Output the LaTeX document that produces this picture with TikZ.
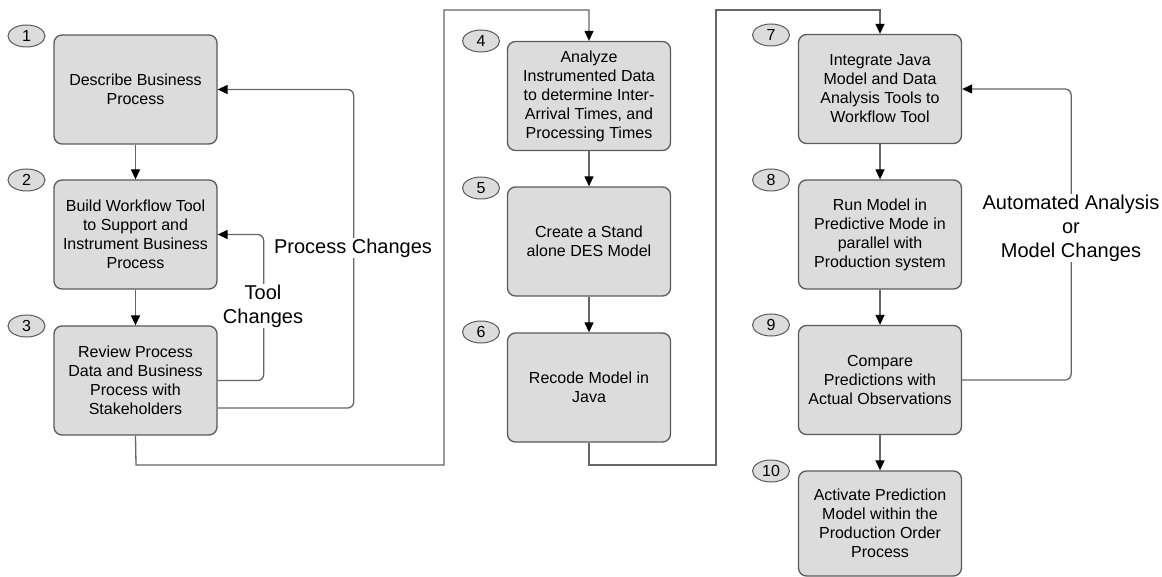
\documentclass[tikz,border=0pt]{standalone}
\usepackage{fontspec}
\setmainfont{Liberation Sans}
\usetikzlibrary{arrows.meta,shapes.geometric}
\definecolor{boxfill}{HTML}{DCDCDC}
\definecolor{boxline}{HTML}{5A5A5A}
\definecolor{linkline}{HTML}{666666}
\tikzset{
  stepbox/.style={draw=boxline, fill=boxfill, line width=1.3pt, rounded corners=8pt,
    minimum width=163pt, minimum height=109pt, align=center, inner sep=2pt,
    font=\fontsize{16}{19}\selectfont},
  stepnum/.style={ellipse, draw=boxline, fill=boxfill, line width=1pt,
    minimum width=37pt, minimum height=22pt, inner sep=0pt,
    font=\fontsize{16}{18}\selectfont},
  link/.style={draw=linkline, line width=1.3pt,
    -{Triangle[length=10pt,width=9pt,fill=black,color=black]}},
  loop/.style={link, rounded corners=6pt},
  route/.style={draw=linkline, line width=1.3pt},
  looplabel/.style={fill=white, align=center, inner sep=1pt,
    font=\fontsize{20}{24}\selectfont}
}
\begin{document}
\begin{tikzpicture}[x=1pt,y=-1pt]
\useasboundingbox (0,0) rectangle (1162,577);

% process steps
\node[stepbox] (b1) at (135.5,89.5) {Describe Business\\Process};
\node[stepbox] (b2) at (135.5,234.5) {Build Workflow Tool\\to Support and\\Instrument Business\\Process};
\node[stepbox] (b3) at (135.5,380.5) {Review Process\\Data and Business\\Process with\\Stakeholders};
\node[stepbox] (b4) at (589,96) {Analyze\\Instrumented Data\\to determine Inter-\\Arrival Times, and\\Processing Times};
\node[stepbox] (b5) at (589,241.5) {Create a Stand\\alone DES Model};
\node[stepbox] (b6) at (589,387.5) {Recode Model in\\Java};
\node[stepbox] (b7) at (880,89) {Integrate Java\\Model and Data\\Analysis Tools to\\Workflow Tool};
\node[stepbox] (b8) at (880,234.5) {Run Model in\\Predictive Mode in\\parallel with\\Production system};
\node[stepbox] (b9) at (880,380) {Compare\\Predictions with\\Actual Observations};
\node[stepbox, minimum height=105pt] (b10) at (880,523.5) {Activate Prediction\\Model within the\\Production Order\\Process};

% step numbers
\node[stepnum] (n1) at (26.5,36) {1};
\node[stepnum] (n2) at (26.5,180) {2};
\node[stepnum] (n3) at (26.5,326) {3};
\node[stepnum] (n4) at (481,41) {4};
\node[stepnum] (n5) at (481,188) {5};
\node[stepnum] (n6) at (481,332) {6};
\node[stepnum] (n7) at (771,35) {7};
\node[stepnum] (n8) at (771,180) {8};
\node[stepnum] (n9) at (771,325) {9};
\node[stepnum] (n10) at (771,471) {10};

% waypoints of the column-to-column routes
\coordinate (r1a) at (136,465);
\coordinate (r1b) at (444,10);
\coordinate (r2a) at (589,465);
\coordinate (r2b) at (716,10);

% straight flow
\draw[link] (b1) -- (b2);
\draw[link] (b2) -- (b3);
\draw[link] (b4) -- (b5);
\draw[link] (b5) -- (b6);
\draw[link] (b7) -- (b8);
\draw[link] (b8) -- (b9);
\draw[link] (b9) -- (b10);

% column changes
\draw[link] (b3.south) -- (r1a) -| (r1b) -| (b4.north);
\draw[link] (b6.south) -- (r2a) -| (r2b) -| (b7.north);

% feedback loops
\draw[loop] (b3.east) -- ++(46,0) |- (b2.east);
\draw[loop] ([yshift=-27.5pt]b3.east) -- ++(136,0) |- (b1.east);
\draw[loop] (b9.east) -- ++(109,0) |- (b7.east);

% loop labels
\node[looplabel] (l1) at (263,306) {Tool\\Changes};
\node[looplabel] (l2) at (353,248) {Process Changes};
\node[looplabel] (l3) at (1071,228) {Automated Analysis\\or\\Model Changes};
\end{tikzpicture}
\end{document}
